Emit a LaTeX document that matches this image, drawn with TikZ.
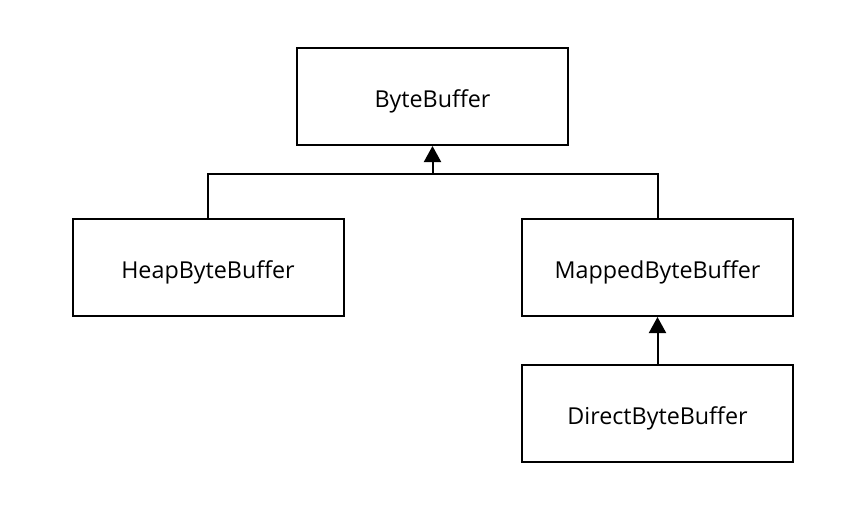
\documentclass[tikz,border=0pt]{standalone}
\usepackage{fontspec}
\setmainfont{Open Sans}
\usetikzlibrary{arrows.meta}
\begin{document}
\begin{tikzpicture}[x=1pt,y=-1pt,
  cls/.style={draw,line width=2pt,minimum width=271pt,minimum height=97pt,inner sep=0pt,text height=21pt,text depth=0pt,font=\fontsize{23.3}{28}\selectfont},
  conn/.style={line width=2pt},
  inh/.style={line width=2pt,-{Triangle[length=16pt,width=17pt]}}]
\useasboundingbox (0,0) rectangle (864,517);
\node[cls] (bb) at (432.5,96.5) {ByteBuffer};
\node[cls] (heap) at (208,267.5) {HeapByteBuffer};
\node[cls] (mapped) at (657.5,267.5) {MappedByteBuffer};
\node[cls] (direct) at (657.5,413.5) {DirectByteBuffer};
\coordinate (j) at (432.5,174);
\draw[conn] (heap.north) |- (j) -| (mapped.north);
\draw[inh] (j) -- (bb.south);
\draw[inh] (direct.north) -- (mapped.south);
\end{tikzpicture}
\end{document}
